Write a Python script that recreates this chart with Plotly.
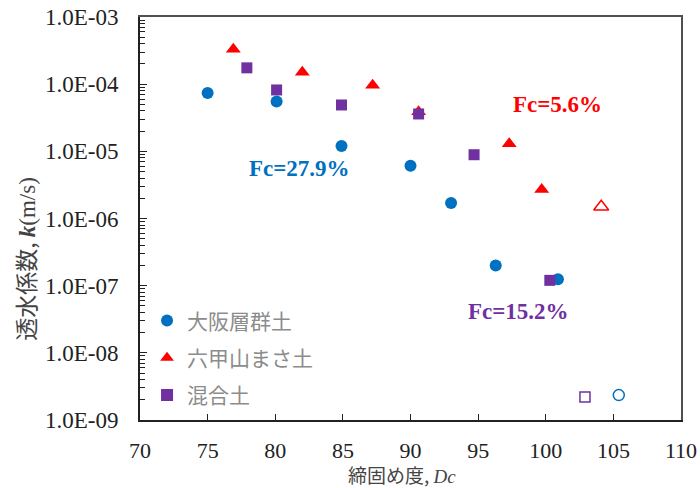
import plotly.graph_objects as go

# Data
osaka_x = [75.0, 80.1, 84.9, 90.0, 93.0, 96.3, 100.9]
osaka_k = [7.4e-5, 5.5e-5, 1.2e-5, 6.1e-6, 1.7e-6, 2.0e-7, 1.25e-7]
osaka_open_x = [105.4]
osaka_open_k = [2.35e-9]

rokko_x = [76.9, 82.0, 87.2, 90.6, 97.3, 99.7]
rokko_k = [3.3e-4, 1.5e-4, 9.6e-5, 3.9e-5, 1.3e-5, 2.7e-6]
rokko_open_x = [104.1]
rokko_open_k = [1.5e-6]

mix_x = [77.9, 80.1, 84.9, 90.6, 94.7, 100.3]
mix_k = [1.75e-4, 8.2e-5, 4.9e-5, 3.6e-5, 8.9e-6, 1.2e-7]
mix_open_x = [102.9]
mix_open_k = [2.2e-9]

names = ["大阪層群土", "六甲山まさ土", "混合土"]
colors = ["#0070C0", "#FF0000", "#7030A0"]

fc_labels = ["Fc=27.9%", "Fc=5.6%", "Fc=15.2%"]
fc_x = [81.8, 100.9, 97.96]
fc_logk = [-5.26, -4.31, -7.38]

ytick_vals = [1e-9, 1e-8, 1e-7, 1e-6, 1e-5, 1e-4, 1e-3]
ytick_text = ["1.0E-09", "1.0E-08", "1.0E-07", "1.0E-06", "1.0E-05", "1.0E-04", "1.0E-03"]
xtick_vals = [70, 75, 80, 85, 90, 95, 100, 105, 110]

SERIF = "Liberation Serif, Times New Roman, serif"
CJK = "Noto Sans CJK JP"

fig = go.Figure()
fig.add_trace(go.Scatter(x=osaka_x, y=osaka_k, mode="markers", name=names[0], legendgroup="a",
                         marker=dict(symbol="circle", size=12, color=colors[0])))
fig.add_trace(go.Scatter(x=rokko_x, y=rokko_k, mode="markers", name=names[1], legendgroup="b",
                         marker=dict(symbol="triangle-up", size=13, color=colors[1])))
fig.add_trace(go.Scatter(x=mix_x, y=mix_k, mode="markers", name=names[2], legendgroup="c",
                         marker=dict(symbol="square", size=11, color=colors[2])))
fig.add_trace(go.Scatter(x=osaka_open_x, y=osaka_open_k, mode="markers", showlegend=False,
                         marker=dict(symbol="circle-open", size=11, color=colors[0], line=dict(width=1.5))))
fig.add_trace(go.Scatter(x=rokko_open_x, y=rokko_open_k, mode="markers", showlegend=False,
                         marker=dict(symbol="triangle-up-open", size=13, color=colors[1], line=dict(width=1.5))))
fig.add_trace(go.Scatter(x=mix_open_x, y=mix_open_k, mode="markers", showlegend=False,
                         marker=dict(symbol="square-open", size=10, color=colors[2], line=dict(width=1.5))))
# invisible trace to carry the thin top/right frame axes
fig.add_trace(go.Scatter(x=[osaka_x[0]], y=[osaka_k[0]], xaxis="x2", yaxis="y2", mode="markers",
                         marker=dict(opacity=0), showlegend=False, hoverinfo="skip"))

for lab, xv, yv, c in zip(fc_labels, fc_x, fc_logk, colors):
    fig.add_annotation(x=xv, y=yv, text="<b>" + lab + "</b>", showarrow=False, xref="x", yref="y",
                       font=dict(family=SERIF, size=23, color=c))

# axis titles
fig.add_annotation(x=0.484, y=-0.134, xref="paper", yref="paper", showarrow=False,
                   xanchor="center", yanchor="middle",
                   text="締固め度, <span style='font-family:Liberation Serif'><i>Dc</i></span>",
                   font=dict(family=CJK, size=19, color="#444444"))
fig.add_annotation(x=-0.2126, y=0.40, xref="paper", yref="paper", showarrow=False,
                   xanchor="center", yanchor="middle", textangle=-90,
                   text="透水係数, <span style='font-family:Liberation Serif'><b><i>k</i></b>(m/s)</span>",
                   font=dict(family=CJK, size=23, color="#444444"))

fig.update_layout(
    width=700, height=488,
    margin=dict(l=140, r=19, t=17, b=68),
    plot_bgcolor="white", paper_bgcolor="white",
    font=dict(family=SERIF, size=18, color="#222222"),
    showlegend=True,
    legend=dict(x=0.013, y=0.297, xanchor="left", yanchor="top",
                font=dict(family=CJK, size=21, color="#8c8c8c"),
                bgcolor="rgba(0,0,0,0)", itemsizing="constant", tracegroupgap=7,
                itemwidth=30),
    xaxis=dict(range=[70, 110], tickvals=xtick_vals, ticks="inside", ticklen=6, tickwidth=1.2,
               tickcolor="#222222", showgrid=False, zeroline=False, automargin=False,
               showline=True, linecolor="#222222", linewidth=2,
               ticklabelstandoff=10, ticklabeloverflow="allow",
               tickfont=dict(family=SERIF, size=22, color="#222222")),
    yaxis=dict(type="log", range=[-9, -3], tickvals=ytick_vals, ticktext=ytick_text,
               ticks="inside", ticklen=7, tickwidth=1.2, tickcolor="#222222",
               showgrid=False, zeroline=False, automargin=False,
               ticklabelstandoff=15, ticklabeloverflow="allow",
               showline=True, linecolor="#222222", linewidth=2,
               minor=dict(ticks="inside", ticklen=5, tickcolor="#222222", showgrid=False, dtick="D1"),
               tickfont=dict(family=SERIF, size=23, color="#222222")),
    xaxis2=dict(overlaying="x", side="top", anchor="y", range=[70, 110], showline=True,
                linecolor="#505050", linewidth=1.5, ticks="", showticklabels=False,
                showgrid=False, zeroline=False, automargin=False),
    yaxis2=dict(overlaying="y", side="right", anchor="x", type="log", range=[-9, -3], showline=True,
                linecolor="#505050", linewidth=1.5, ticks="", showticklabels=False,
                showgrid=False, zeroline=False, automargin=False),
)

fig.write_html("out.html", config={"displayModeBar": False},
               post_script="document.body.style.margin='0';document.body.style.overflow='hidden';")
